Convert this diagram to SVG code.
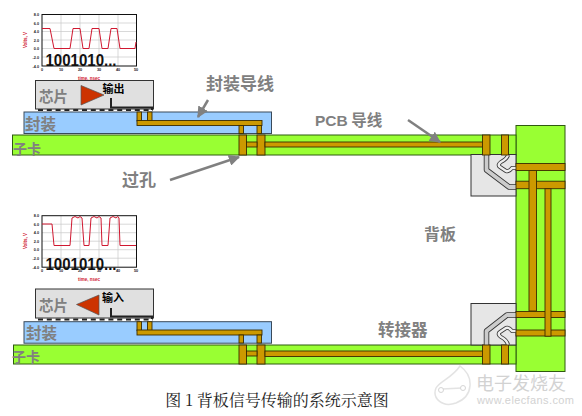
<svg xmlns="http://www.w3.org/2000/svg" width="582" height="416" viewBox="0 0 582 416">
<defs>
<marker id="ah" viewBox="0 0 10 10" refX="9" refY="5" markerWidth="4.500" markerHeight="4.500" orient="auto"><path d="M0 0L10 5L0 10Z" fill="#808080"/></marker>
<g id="ticks"><path d="M61 0V51.500M80 0V51.500M99 0V51.500M118 0V51.500M42 8.500H136M42 17H136M42 25.500H136M42 34H136M42 42.500H136" stroke="#c8c8c8" stroke-width="0.700" fill="none"/><rect x="42" y="0" width="94.500" height="51.500" fill="none" stroke="#111" stroke-width="1"/>
<g class="tk" text-anchor="middle"><text x="42" y="56">0</text><text x="61" y="56">10</text><text x="80" y="56">20</text><text x="99" y="56">30</text><text x="118" y="56">40</text><text x="136" y="56">50</text></g>
<g class="tk" text-anchor="end"><text x="39" y="1.500">8.0</text><text x="39" y="10">6.0</text><text x="39" y="18.500">4.0</text><text x="39" y="27">2.0</text><text x="39" y="35.500">0.0</text><text x="39" y="44">-2.0</text><text x="39" y="53">-4.0</text></g></g>
</defs>
<style>
.lbl{font-family:"Noto Sans CJK SC","Liberation Sans",sans-serif;font-weight:700;fill:#808080}
.blk{font-family:"Noto Sans CJK SC","Liberation Sans",sans-serif;font-weight:700;fill:#000}
.num{font-family:"Liberation Sans",sans-serif;font-weight:700;fill:#111;font-size:16px}
.ax{font-family:"Liberation Sans",sans-serif;font-weight:700;fill:#d02030;font-size:4.500px}
.tk{font-family:"Liberation Sans",sans-serif;font-weight:700;fill:#222;font-size:3.800px}
.chip{fill:#e0e0e0;stroke:#333;stroke-width:1}
.pkg{fill:#99ccff;stroke:#3a4a5a;stroke-width:1}
.card{fill:#99ff33;stroke:#2f5a10;stroke-width:1}
.cu{fill:#cc9900;stroke:#3a2c00;stroke-width:0.900}
.wave{fill:none;stroke:#d01830;stroke-width:1}
.conn{fill:#e6e6e6;stroke:#333;stroke-width:1}
.pin{fill:none;stroke:#333;stroke-width:5.500;stroke-linejoin:round}
.pin2{fill:none;stroke:#ccc;stroke-width:3.800;stroke-linejoin:round}
.pina{fill:none;stroke:#333;stroke-width:4;stroke-linejoin:round}
.pinb{fill:none;stroke:#eee;stroke-width:2.400;stroke-linejoin:round}
.arr{stroke:#808080;stroke-width:2.500;fill:none}
.pad{stroke:#222;stroke-width:2;fill:none;stroke-dasharray:5 3.800}
</style>

<g id="chart-top">
<g transform="translate(0,14.500)"><use href="#ticks"/></g>
<path class="wave" d="M42 28.500H50L54 48.500H70L73 28.500H80L83 48.500H89L92 28.500H99L102 48.500H108L111 28.500H117L120 48.500H135L136 42"/>
<text class="ax" x="27" y="40" transform="rotate(-90 27 40)" text-anchor="middle">Volts, V</text>
<text class="ax" x="89" y="80" text-anchor="middle">time, nsec</text>
<text class="num" x="45.500" y="66" textLength="71" lengthAdjust="spacingAndGlyphs">1001010...</text>
</g>
<g id="chart-bottom">
<g transform="translate(0,215.700)"><use href="#ticks"/></g>
<path class="wave" d="M42 224H52L54 245.500H70L72 218Q75 215 78 218Q80 215 82 218L84 245.500H89L91 218Q94 215 97 218Q99 215 101 218L102 245.500H108L110 218Q113 215 116 218Q118 215 119 218L120 245.500H136"/>
<text class="ax" x="27" y="241" transform="rotate(-90 27 241)" text-anchor="middle">Volts, V</text>
<text class="ax" x="89" y="281" text-anchor="middle">time, nsec</text>
<text class="num" x="45.500" y="270" textLength="71" lengthAdjust="spacingAndGlyphs">1001010...</text>
</g>

<g id="backplane">
<rect class="card" x="516" y="125.500" width="49" height="246"/>
</g>
<g id="card-top"><rect class="card" x="12.500" y="135" width="503.500" height="20"/><text class="lbl" x="13" y="154" font-size="14">子卡</text></g>
<g id="card-bottom"><rect class="card" x="13.500" y="345" width="502.500" height="19"/><text class="lbl" x="12" y="362" font-size="14">子卡</text></g>
<g id="package-top"><rect class="pkg" x="24" y="112" width="247.500" height="21.500"/><text class="lbl" x="25" y="130" font-size="15.500">封装</text></g>
<g id="package-bottom"><rect class="pkg" x="24" y="321.700" width="247.500" height="21.500"/><text class="lbl" x="26" y="339" font-size="15.500">封装</text></g>

<g id="chip-top">
<path class="pad" d="M38 110H153"/>
<rect class="chip" x="35.500" y="80.500" width="118" height="28.500"/>
<path d="M81 85.500V105L104 95Z" fill="#cc3300" stroke="#555" stroke-width="0.700"/>
<text class="lbl" x="39" y="102" font-size="14.500">芯片</text>
<text class="blk" x="102.500" y="93" font-size="11">输出</text>
</g>
<g id="chip-bottom">
<path class="pad" d="M38 319.500H153"/>
<rect class="chip" x="35.500" y="289" width="118" height="29"/>
<path d="M99 295V315L76.500 304.500Z" fill="#cc3300" stroke="#555" stroke-width="0.700"/>
<text class="lbl" x="39" y="311" font-size="14.500">芯片</text>
<text class="blk" x="102" y="302" font-size="11">输入</text>
</g>

<g id="connector-top">
<rect class="conn" x="471" y="154.500" width="45" height="41.500"/>
<path class="pin" d="M486.500 155V170L509 187H516"/><path class="pin2" d="M486.500 155V170L509 187H516"/>
<path class="pina" d="M508 155Q507 159 501 162Q497 165 500 167L506 171Q509 172 512 168H516"/><path class="pinb" d="M508 155Q507 159 501 162Q497 165 500 167L506 171Q509 172 512 168H516"/>
</g>
<g id="connector-bottom">
<rect class="conn" x="471" y="303.500" width="45" height="41.500"/>
<path class="pin" d="M486.500 345V331L507 315H516"/><path class="pin2" d="M486.500 345V331L507 315H516"/>
<path class="pina" d="M508 345Q507 340 501 337Q497 334 500 332L506 328Q509 327 512 331H516"/><path class="pinb" d="M508 345Q507 340 501 337Q497 334 500 332L506 328Q509 327 512 331H516"/>
</g>

<g id="connectors">
<path d="M111 98V107.500H152V110" fill="none" stroke="#222" stroke-width="2"/>
<rect class="cu" x="137" y="112" width="4.500" height="9"/><rect class="cu" x="147.500" y="112" width="4.500" height="9"/>
<rect class="cu" x="137" y="120.500" width="125" height="5"/>
<rect class="cu" x="239" y="125.500" width="4.500" height="8"/><rect class="cu" x="257" y="125.500" width="4.500" height="8"/>
<rect class="cu" x="239" y="135" width="7.500" height="20"/><rect class="cu" x="257" y="135" width="8" height="20"/>
<rect class="cu" x="246.500" y="142" width="10.500" height="5"/><rect class="cu" x="265" y="142" width="219" height="5"/>
<rect class="cu" x="482.500" y="135" width="7.500" height="20"/><rect class="cu" x="501.500" y="135" width="7" height="20"/>
<path d="M111 308V316.500H152V319" fill="none" stroke="#222" stroke-width="2"/>
<rect class="cu" x="137" y="321.700" width="4.500" height="9"/><rect class="cu" x="147.500" y="321.700" width="4.500" height="9"/>
<rect class="cu" x="137" y="330" width="125" height="5"/>
<rect class="cu" x="239" y="335" width="4.500" height="8"/><rect class="cu" x="257" y="335" width="4.500" height="8"/>
<rect class="cu" x="239" y="345" width="7.500" height="19"/><rect class="cu" x="257" y="345" width="8" height="19"/>
<rect class="cu" x="246.500" y="351" width="10.500" height="5"/><rect class="cu" x="265" y="351" width="219" height="5.500"/>
<rect class="cu" x="482.500" y="345" width="7.500" height="19"/><rect class="cu" x="501.500" y="345" width="7" height="19"/>
<rect class="cu" x="516" y="181.200" width="49" height="7.500"/>
<rect class="cu" x="529" y="170" width="7.500" height="141"/>
<rect class="cu" x="516" y="163.500" width="49" height="7"/>
<rect class="cu" x="516" y="311.500" width="49" height="6"/>
<rect class="cu" x="516" y="330" width="49" height="6"/>
<rect class="cu" x="545" y="188.700" width="6" height="147.500"/>
<path class="arr" d="M208 100L198 117" marker-end="url(#ah)"/>
<path class="arr" d="M170 180L239 157" marker-end="url(#ah)"/>
<path class="arr" d="M408 120L440 142" marker-end="url(#ah)"/>
</g>

<g id="labels">
<text class="lbl" x="206" y="90" font-size="17">封装导线</text>
<text class="lbl" x="122" y="186" font-size="17">过孔</text>
<text class="lbl" x="315" y="126" font-size="15.500"><tspan font-family="Liberation Sans">PCB</tspan> 导线</text>
<text class="lbl" x="424" y="240" font-size="16">背板</text>
<text class="lbl" x="378" y="336" font-size="16.500">转接器</text>
<text x="277" y="406" text-anchor="middle" font-size="16" fill="#222" style="font-family:'Noto Serif CJK SC','Noto Sans CJK SC',serif">图 1 背板信号传输的系统示意图</text>
</g>
<g id="watermark" opacity="0.8">
<path d="M460 366C474 376 474 396 456 403C442 408 432 398 436 388C440 381 452 378 460 366Z" fill="none" stroke="#ddd" stroke-width="1.500"/>
<path d="M442 389L462 388" stroke="#ddd" stroke-width="1.500"/>
<circle cx="441" cy="390" r="2.500" fill="#fff" stroke="#ccc"/><circle cx="463" cy="388" r="2.500" fill="#fff" stroke="#ccc"/>
<text x="476" y="390" font-size="18" fill="#c8c8c8" style="font-family:'Noto Sans CJK SC',sans-serif">电子发烧友</text>
<text x="477" y="404" font-size="11" fill="#c8c8c8" style="font-family:'Liberation Sans',sans-serif" textLength="97">www.elecfans.com</text>
</g>
</svg>
